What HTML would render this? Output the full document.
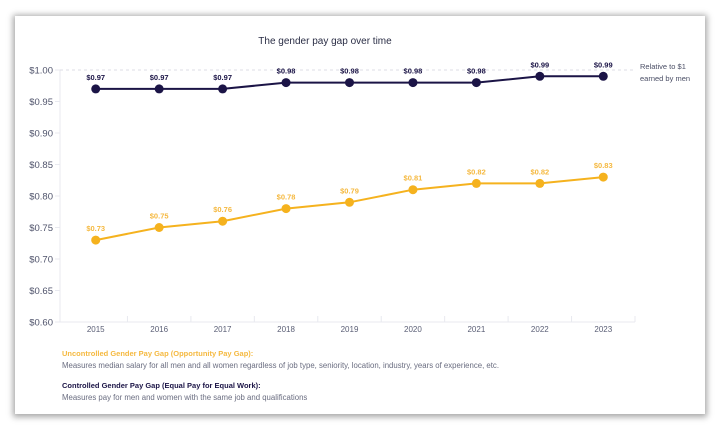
<!DOCTYPE html>
<html><head><meta charset="utf-8"><style>
body{margin:0;width:720px;height:434px;background:#fff;overflow:hidden;font-family:"Liberation Sans",sans-serif}
#card{position:absolute;left:15px;top:16px;width:690px;height:398px;background:#fff;box-shadow:0 1px 6px 2px rgba(0,0,0,0.35)}
svg{position:absolute;left:0;top:0}
</style></head><body>
<div id="card"></div>
<svg id="chart" width="720" height="434"></svg>
<script>
const years=['2015','2016','2017','2018','2019','2020','2021','2022','2023'];
const controlled=[0.97,0.97,0.97,0.98,0.98,0.98,0.98,0.99,0.99];
const uncontrolled=[0.73,0.75,0.76,0.78,0.79,0.81,0.82,0.82,0.83];
const yTicks=[0.60,0.65,0.70,0.75,0.80,0.85,0.90,0.95,1.00];
const NS='http://www.w3.org/2000/svg';
const svg=document.getElementById('chart');
const L=64,R=635,T=70,B=322,yMin=0.6,yMax=1.0;
const band=(R-L)/years.length;
const x=i=>L+band*(i+0.5);
const y=v=>B-(v-yMin)/(yMax-yMin)*(B-T);
function el(tag,attrs,text){const e=document.createElementNS(NS,tag);for(const k in attrs)e.setAttribute(k,attrs[k]);if(text!=null)e.textContent=text;svg.appendChild(e);return e;}
let t=el('text',{x:325,y:44,'text-anchor':'middle','font-size':10,fill:'#2a2d45','font-weight':'500'},'The gender pay gap over time');


let a=el('line',{x1:60,y1:T,x2:60,y2:B,stroke:'#e8e9ef','stroke-width':1});


let xa=el('line',{x1:60,y1:B,x2:R,y2:B,stroke:'#e8e9ef','stroke-width':1});


let g=el('line',{x1:60,y1:y(1.0),x2:R,y2:y(1.0),stroke:'#dcdde5','stroke-width':1,'stroke-dasharray':'3,3'});


yTicks.forEach(v=>{
  const tk=el('line',{x1:55,y1:y(v),x2:60,y2:y(v),stroke:'#e8e9ef'});
  
  
  const lb=el('text',{x:53,y:y(v)+3.5,'text-anchor':'end','font-size':9.5,fill:'#4f536b'},'$'+v.toFixed(2));
  
  
});
years.forEach((yr,i)=>{
  const tk=el('line',{x1:L+band*(i+1),y1:B-6,x2:L+band*(i+1),y2:B,stroke:'#e8e9ef'});
  
  
  const lb=el('text',{x:x(i),y:B+10,'text-anchor':'middle','font-size':8,fill:'#5a5e75'},yr);
  
  
});
function series(vals,color,name,lblColor){
  const p=el('polyline',{points:vals.map((v,i)=>x(i)+','+y(v)).join(' '),fill:'none',stroke:color,'stroke-width':2});
  
  
  vals.forEach((v,i)=>{
    const c=el('circle',{cx:x(i),cy:y(v),r:4.5,fill:color});
    
    
    const lb=el('text',{x:x(i),y:y(v)-9,'text-anchor':'middle','font-size':7.5,'font-weight':'bold',fill:lblColor},'$'+v.toFixed(2));
    
    
  });
}
series(controlled,'#1b1446','controlled','#1b1446');
series(uncontrolled,'#f5b21e','uncontrolled','#f5b940');
const notes=[['Relative to $1',640,69],['earned by men',640,81]];
notes.forEach(n=>{const e=el('text',{x:n[1],y:n[2],'font-size':7.5,fill:'#4a4e65'},n[0]);

});
const leg=[['Uncontrolled Gender Pay Gap (Opportunity Pay Gap):',356,'#f5b940','bold','legend-uncontrolled-title',7.5],
['Measures median salary for all men and all women regardless of job type, seniority, location, industry, years of experience, etc.',368,'#6a6d80','normal','legend-uncontrolled-desc',7.8],
['Controlled Gender Pay Gap (Equal Pay for Equal Work):',388,'#1b1446','bold','legend-controlled-title',7.5],
['Measures pay for men and women with the same job and qualifications',400,'#6a6d80','normal','legend-controlled-desc',7.8]];
leg.forEach(l=>{const e=el('text',{x:62,y:l[1],'font-size':l[5],fill:l[2],'font-weight':l[3]},l[0]);

});
</script>
</body></html>
